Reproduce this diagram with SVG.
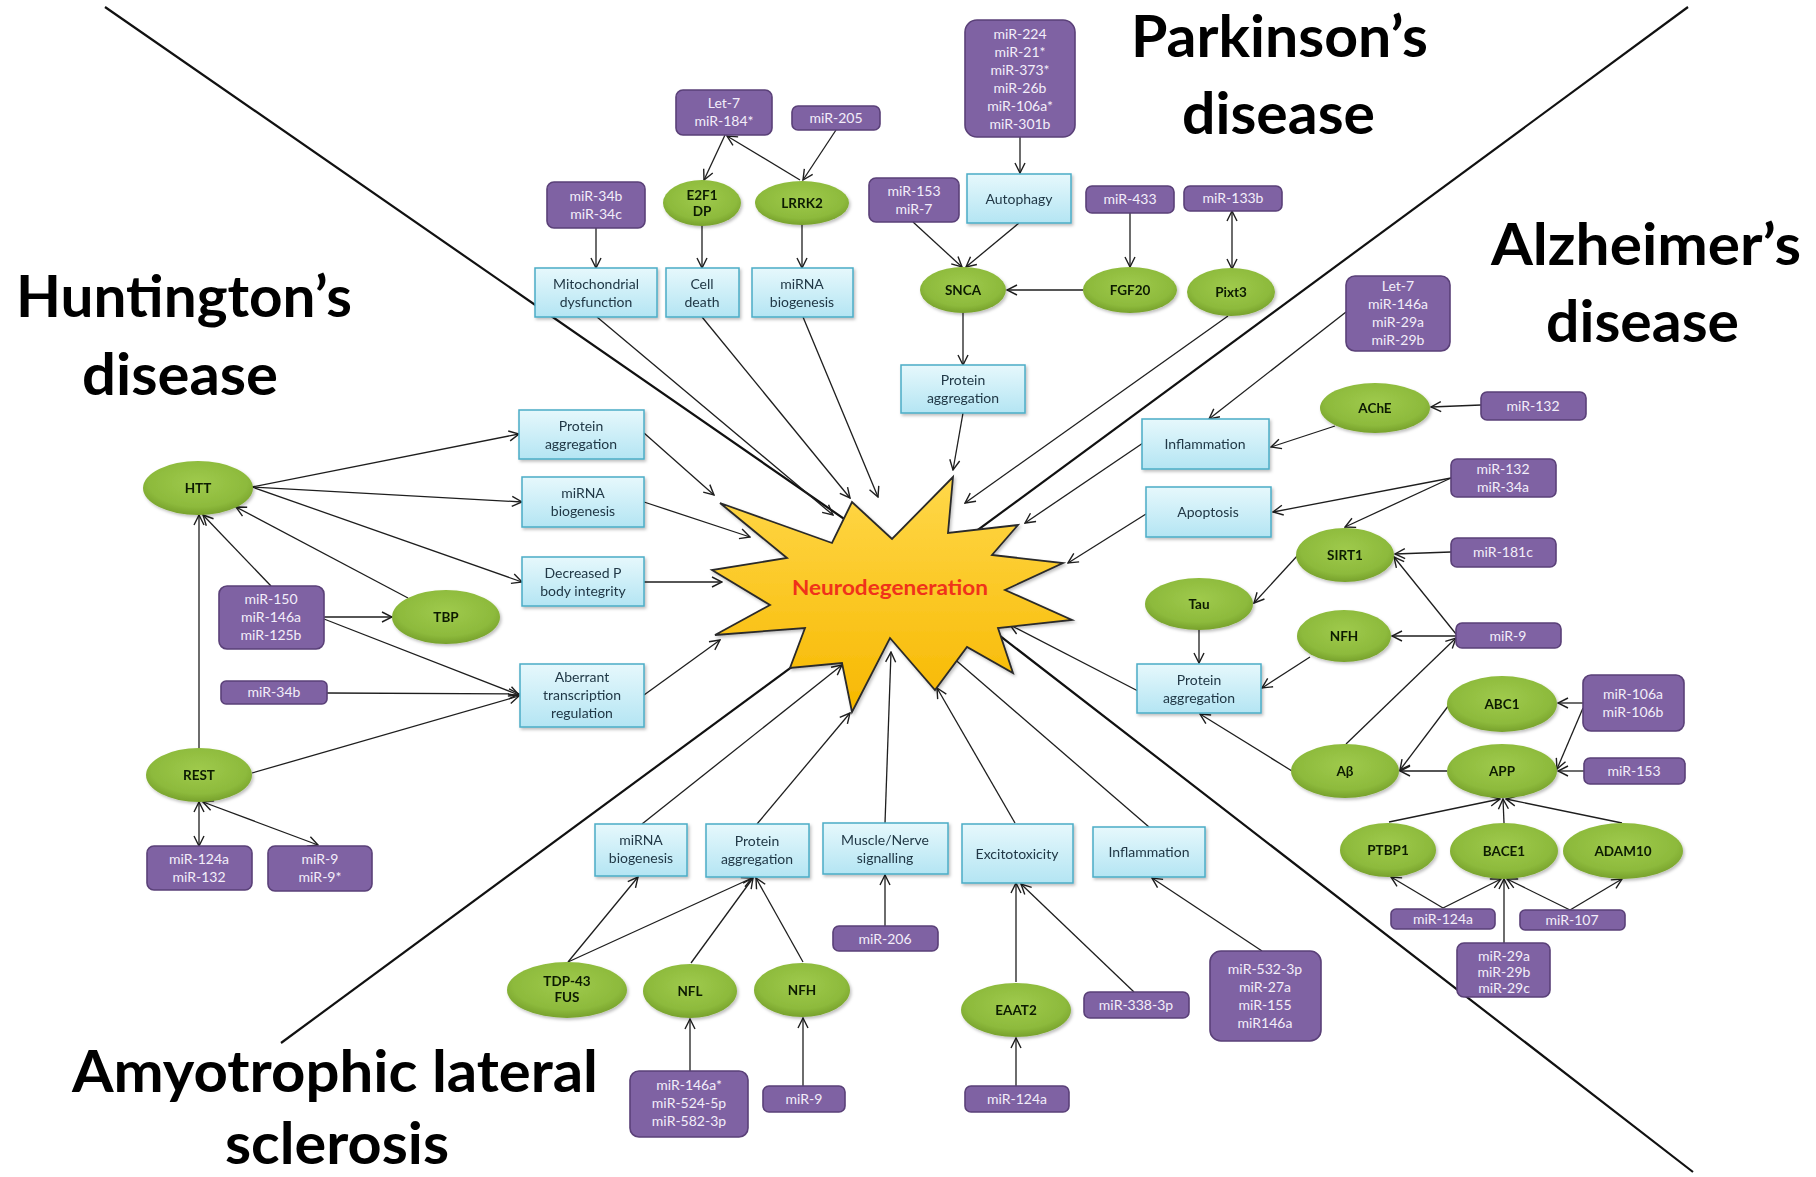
<svg xmlns="http://www.w3.org/2000/svg" width="1816" height="1177" viewBox="0 0 1816 1177">
<defs>
<style>
.title{font-family:Lato,"Open Sans",sans-serif;font-weight:700;font-size:57px;fill:#000}
.bt{font-family:Lato,"Open Sans",sans-serif;font-size:14px;fill:#203846;text-anchor:middle}
.pt{font-family:Lato,"Open Sans",sans-serif;font-size:14px;fill:#f3eefa;text-anchor:middle}
.et{font-family:Lato,"Open Sans",sans-serif;font-weight:700;font-size:13.5px;fill:#0d1a05;text-anchor:middle}
.cy{fill:url(#gc);stroke:#4bacc6;stroke-width:1.5}
.pu{fill:#7f62a3;stroke:#5a4078;stroke-width:1.6}
.gr{fill:url(#gg)}
.c{stroke:#1e1e1e;stroke-width:1.3;fill:none;marker-end:url(#ah)}
.cb{stroke:#1e1e1e;stroke-width:1.3;fill:none;marker-end:url(#ah);marker-start:url(#ah)}
.dg{stroke:#111;stroke-width:2.2;fill:none}
</style>
<linearGradient id="gc" x1="0" y1="0" x2="0" y2="1"><stop offset="0" stop-color="#e6f8fc"/><stop offset="1" stop-color="#b4e5f3"/></linearGradient>
<radialGradient id="gg" cx="0.5" cy="0.4" r="0.6"><stop offset="0" stop-color="#9fca4c"/><stop offset="0.75" stop-color="#8dba3c"/><stop offset="1" stop-color="#77a12c"/></radialGradient>
<linearGradient id="gs" x1="0" y1="0" x2="0" y2="1"><stop offset="0" stop-color="#ffd84a"/><stop offset="1" stop-color="#f7b800"/></linearGradient>
<marker id="ah" viewBox="0 0 12 12" refX="11" refY="6" markerWidth="12" markerHeight="12" markerUnits="userSpaceOnUse" orient="auto-start-reverse"><path d="M1,1 L11,6 L1,11" fill="none" stroke="#1e1e1e" stroke-width="1.4"/></marker>
<filter id="sh" x="-10%" y="-10%" width="130%" height="140%"><feDropShadow dx="1.5" dy="2" stdDeviation="1.5" flood-color="#000" flood-opacity="0.25"/></filter>
</defs>
<rect width="1816" height="1177" fill="#fff"/>

<g id="dividers">
<polyline class="dg" points="105,7 889,550 1693,1172"/>
<line class="dg" x1="1688" y1="7" x2="281" y2="1043"/>
</g>

<g id="titles">
<text class="title" x="1131" y="57" textLength="297" lengthAdjust="spacingAndGlyphs">Parkinson’s</text>
<text class="title" x="1182" y="134" textLength="193" lengthAdjust="spacingAndGlyphs">disease</text>
<text class="title" x="1491" y="265" textLength="310" lengthAdjust="spacingAndGlyphs">Alzheimer’s</text>
<text class="title" x="1546" y="342" textLength="193" lengthAdjust="spacingAndGlyphs">disease</text>
<text class="title" x="16" y="317" textLength="336" lengthAdjust="spacingAndGlyphs">Huntington’s</text>
<text class="title" x="82" y="395" textLength="196" lengthAdjust="spacingAndGlyphs">disease</text>
<text class="title" x="72" y="1092" textLength="526" lengthAdjust="spacingAndGlyphs">Amyotrophic lateral</text>
<text class="title" x="225" y="1164" textLength="224" lengthAdjust="spacingAndGlyphs">sclerosis</text>
</g>

<g id="connectors">
<line class="c" x1="725" y1="135" x2="704" y2="180"/>
<line class="c" x1="800" y1="180" x2="727" y2="136"/>
<line class="c" x1="836" y1="130" x2="803" y2="180"/>
<line class="c" x1="596" y1="228" x2="596" y2="268"/>
<line class="c" x1="702" y1="226" x2="702" y2="268"/>
<line class="c" x1="802" y1="225" x2="802" y2="268"/>
<line class="c" x1="597" y1="317" x2="833" y2="515"/>
<line class="c" x1="702" y1="317" x2="850" y2="498"/>
<line class="c" x1="803" y1="317" x2="878" y2="497"/>
<line class="c" x1="1020" y1="137" x2="1020" y2="173"/>
<line class="c" x1="913" y1="222" x2="962" y2="267"/>
<line class="c" x1="1019" y1="223" x2="966" y2="267"/>
<line class="c" x1="1083" y1="290" x2="1007" y2="290"/>
<line class="c" x1="1130" y1="213" x2="1130" y2="267"/>
<line class="cb" x1="1232" y1="211" x2="1232" y2="269"/>
<line class="c" x1="963" y1="313" x2="963" y2="365"/>
<line class="c" x1="963" y1="413" x2="953" y2="470"/>
<line class="c" x1="1228" y1="316" x2="965" y2="503"/>
<line class="c" x1="1346" y1="312" x2="1209" y2="419"/>
<line class="c" x1="1335" y1="426" x2="1271" y2="447"/>
<line class="c" x1="1481" y1="405" x2="1431" y2="407"/>
<line class="c" x1="1451" y1="478" x2="1273" y2="512"/>
<line class="c" x1="1451" y1="478" x2="1345" y2="527"/>
<line class="c" x1="1451" y1="552" x2="1395" y2="554"/>
<line class="c" x1="1298" y1="555" x2="1254" y2="603"/>
<line class="c" x1="1199" y1="630" x2="1199" y2="663"/>
<line class="c" x1="1310" y1="657" x2="1262" y2="688"/>
<line class="c" x1="1456" y1="636" x2="1392" y2="636"/>
<line class="c" x1="1456" y1="634" x2="1394" y2="557"/>
<line class="c" x1="1346" y1="744" x2="1456" y2="638"/>
<line class="c" x1="1143" y1="443" x2="1025" y2="523"/>
<line class="c" x1="1146" y1="514" x2="1068" y2="563"/>
<line class="c" x1="1138" y1="691" x2="1010" y2="625"/>
<line class="c" x1="1292" y1="771" x2="1200" y2="714"/>
<line class="c" x1="1449" y1="705" x2="1400" y2="770"/>
<line class="c" x1="1447" y1="771" x2="1400" y2="771"/>
<line class="c" x1="1583" y1="703" x2="1558" y2="703"/>
<line class="c" x1="1583" y1="708" x2="1557" y2="769"/>
<line class="c" x1="1584" y1="771" x2="1558" y2="771"/>
<line class="c" x1="1389" y1="822" x2="1500" y2="799"/>
<line class="c" x1="1504" y1="823" x2="1503" y2="799"/>
<line class="c" x1="1622" y1="823" x2="1506" y2="799"/>
<line class="c" x1="1443" y1="908" x2="1391" y2="877"/>
<line class="c" x1="1443" y1="908" x2="1501" y2="879"/>
<line class="c" x1="1570" y1="910" x2="1507" y2="879"/>
<line class="c" x1="1570" y1="910" x2="1622" y2="879"/>
<line class="c" x1="1504" y1="943" x2="1504" y2="879"/>
<line class="c" x1="252" y1="487" x2="519" y2="434"/>
<line class="c" x1="252" y1="487" x2="522" y2="502"/>
<line class="c" x1="252" y1="487" x2="522" y2="582"/>
<line class="c" x1="408" y1="598" x2="236" y2="507"/>
<line class="c" x1="271" y1="586" x2="203" y2="515"/>
<line class="c" x1="324" y1="617" x2="392" y2="617"/>
<line class="c" x1="324" y1="619" x2="519" y2="695"/>
<line class="c" x1="327" y1="693" x2="519" y2="694"/>
<line class="c" x1="252" y1="773" x2="519" y2="696"/>
<line class="c" x1="199" y1="748" x2="199" y2="515"/>
<line class="cb" x1="199" y1="802" x2="199" y2="846"/>
<line class="cb" x1="203" y1="802" x2="318" y2="845"/>
<line class="c" x1="644" y1="433" x2="714" y2="495"/>
<line class="c" x1="644" y1="502" x2="750" y2="537"/>
<line class="c" x1="644" y1="582" x2="722" y2="582"/>
<line class="c" x1="644" y1="695" x2="720" y2="640"/>
<line class="c" x1="642" y1="824" x2="842" y2="665"/>
<line class="c" x1="757" y1="824" x2="850" y2="713"/>
<line class="c" x1="885" y1="823" x2="891" y2="652"/>
<line class="c" x1="1015" y1="823" x2="937" y2="688"/>
<line class="c" x1="1149" y1="827" x2="944" y2="650"/>
<line class="c" x1="568" y1="962" x2="638" y2="877"/>
<line class="c" x1="568" y1="962" x2="752" y2="878"/>
<line class="c" x1="691" y1="963" x2="753" y2="878"/>
<line class="c" x1="803" y1="962" x2="756" y2="878"/>
<line class="c" x1="690" y1="1071" x2="690" y2="1019"/>
<line class="c" x1="803" y1="1086" x2="803" y2="1018"/>
<line class="c" x1="885" y1="926" x2="885" y2="875"/>
<line class="c" x1="1016" y1="982" x2="1016" y2="883"/>
<line class="c" x1="1134" y1="992" x2="1021" y2="884"/>
<line class="c" x1="1262" y1="951" x2="1152" y2="878"/>
<line class="c" x1="1016" y1="1086" x2="1016" y2="1038"/>
</g>

<g id="neurodegeneration">
<polygon points="720,503 832,543 852,502 892,539 953,477 948,533 1018,525 992,555 1063,563 1005,590 1072,620 998,628 1013,673 967,647 935,690 890,638 852,712 842,663 790,668 805,628 715,635 770,605 712,570 787,558" fill="url(#gs)" stroke="#2a2a2a" stroke-width="1.8" stroke-linejoin="miter" filter="url(#sh)"/>
<text x="890" y="595" font-family="Lato,'Open Sans',sans-serif" font-weight="700" font-size="20" fill="#f0321a" text-anchor="middle" textLength="196" lengthAdjust="spacingAndGlyphs">Neurodegeneration</text>
</g>

<!-- Parkinson's -->
<g id="pd-let7"><rect class="pu" x="676" y="90" width="96" height="45" rx="7"/><text class="pt" x="724" y="108">Let-7</text><text class="pt" x="724" y="126">miR-184*</text></g>
<g id="pd-mir205"><rect class="pu" x="792" y="106" width="88" height="24" rx="6"/><text class="pt" x="836" y="123">miR-205</text></g>
<g id="pd-mir34b"><rect class="pu" x="547" y="182" width="98" height="46" rx="7"/><text class="pt" x="596" y="201">miR-34b</text><text class="pt" x="596" y="219">miR-34c</text></g>
<g id="pd-e2f1" filter="url(#sh)"><ellipse class="gr" cx="702" cy="203" rx="39" ry="23"/><text class="et" x="702" y="200">E2F1</text><text class="et" x="702" y="216">DP</text></g>
<g id="pd-lrrk2" filter="url(#sh)"><ellipse class="gr" cx="802" cy="203" rx="47" ry="22"/><text class="et" x="802" y="208">LRRK2</text></g>
<g id="pd-mito" filter="url(#sh)"><rect class="cy" x="535" y="268" width="122" height="49"/><text class="bt" x="596" y="289">Mitochondrial</text><text class="bt" x="596" y="307">dysfunction</text></g>
<g id="pd-cell" filter="url(#sh)"><rect class="cy" x="666" y="268" width="73" height="49"/><text class="bt" x="702" y="289">Cell</text><text class="bt" x="702" y="307">death</text></g>
<g id="pd-mirna" filter="url(#sh)"><rect class="cy" x="752" y="268" width="101" height="49"/><text class="bt" x="802" y="289">miRNA</text><text class="bt" x="802" y="307">biogenesis</text></g>
<g id="pd-mir224"><rect class="pu" x="965" y="20" width="110" height="117" rx="12"/><text class="pt" x="1020" y="39">miR-224</text><text class="pt" x="1020" y="57">miR-21*</text><text class="pt" x="1020" y="75">miR-373*</text><text class="pt" x="1020" y="93">miR-26b</text><text class="pt" x="1020" y="111">miR-106a*</text><text class="pt" x="1020" y="129">miR-301b</text></g>
<g id="pd-autophagy" filter="url(#sh)"><rect class="cy" x="967" y="174" width="104" height="49"/><text class="bt" x="1019" y="204">Autophagy</text></g>
<g id="pd-mir153"><rect class="pu" x="869" y="178" width="90" height="44" rx="7"/><text class="pt" x="914" y="196">miR-153</text><text class="pt" x="914" y="214">miR-7</text></g>
<g id="pd-mir433"><rect class="pu" x="1086" y="186" width="88" height="27" rx="6"/><text class="pt" x="1130" y="204">miR-433</text></g>
<g id="pd-mir133b"><rect class="pu" x="1184" y="186" width="98" height="25" rx="6"/><text class="pt" x="1233" y="203">miR-133b</text></g>
<g id="pd-snca" filter="url(#sh)"><ellipse class="gr" cx="963" cy="290" rx="43" ry="23"/><text class="et" x="963" y="295">SNCA</text></g>
<g id="pd-fgf20" filter="url(#sh)"><ellipse class="gr" cx="1130" cy="290" rx="47" ry="23"/><text class="et" x="1130" y="295">FGF20</text></g>
<g id="pd-pixt3" filter="url(#sh)"><ellipse class="gr" cx="1231" cy="292" rx="44" ry="24"/><text class="et" x="1231" y="297">Pixt3</text></g>
<g id="pd-protein" filter="url(#sh)"><rect class="cy" x="901" y="365" width="124" height="48"/><text class="bt" x="963" y="385">Protein</text><text class="bt" x="963" y="403">aggregation</text></g>

<!-- Alzheimer's -->
<g id="ad-let7"><rect class="pu" x="1346" y="276" width="104" height="75" rx="9"/><text class="pt" x="1398" y="291">Let-7</text><text class="pt" x="1398" y="309">miR-146a</text><text class="pt" x="1398" y="327">miR-29a</text><text class="pt" x="1398" y="345">miR-29b</text></g>
<g id="ad-ache" filter="url(#sh)"><ellipse class="gr" cx="1375" cy="408" rx="55" ry="25"/><text class="et" x="1375" y="413">AChE</text></g>
<g id="ad-mir132"><rect class="pu" x="1481" y="392" width="105" height="28" rx="6"/><text class="pt" x="1533" y="411">miR-132</text></g>
<g id="ad-inflam" filter="url(#sh)"><rect class="cy" x="1142" y="419" width="127" height="50"/><text class="bt" x="1205" y="449">Inflammation</text></g>
<g id="ad-mir132-34a"><rect class="pu" x="1451" y="459" width="105" height="38" rx="6"/><text class="pt" x="1503" y="474">miR-132</text><text class="pt" x="1503" y="492">miR-34a</text></g>
<g id="ad-apoptosis" filter="url(#sh)"><rect class="cy" x="1146" y="487" width="125" height="50"/><text class="bt" x="1208" y="517">Apoptosis</text></g>
<g id="ad-sirt1" filter="url(#sh)"><ellipse class="gr" cx="1345" cy="555" rx="49" ry="27"/><text class="et" x="1345" y="560">SIRT1</text></g>
<g id="ad-mir181c"><rect class="pu" x="1451" y="538" width="105" height="29" rx="6"/><text class="pt" x="1503" y="557">miR-181c</text></g>
<g id="ad-tau" filter="url(#sh)"><ellipse class="gr" cx="1199" cy="604" rx="54" ry="26"/><text class="et" x="1199" y="609">Tau</text></g>
<g id="ad-nfh" filter="url(#sh)"><ellipse class="gr" cx="1344" cy="636" rx="47" ry="26"/><text class="et" x="1344" y="641">NFH</text></g>
<g id="ad-mir9"><rect class="pu" x="1456" y="623" width="105" height="25" rx="6"/><text class="pt" x="1508" y="641">miR-9</text></g>
<g id="ad-protein" filter="url(#sh)"><rect class="cy" x="1137" y="664" width="124" height="49"/><text class="bt" x="1199" y="685">Protein</text><text class="bt" x="1199" y="703">aggregation</text></g>
<g id="ad-abc1" filter="url(#sh)"><ellipse class="gr" cx="1502" cy="704" rx="55" ry="28"/><text class="et" x="1502" y="709">ABC1</text></g>
<g id="ad-mir106"><rect class="pu" x="1583" y="675" width="101" height="56" rx="8"/><text class="pt" x="1633" y="699">miR-106a</text><text class="pt" x="1633" y="717">miR-106b</text></g>
<g id="ad-abeta" filter="url(#sh)"><ellipse class="gr" cx="1345" cy="771" rx="54" ry="27"/><text class="et" x="1345" y="776">Aβ</text></g>
<g id="ad-app" filter="url(#sh)"><ellipse class="gr" cx="1502" cy="771" rx="55" ry="27"/><text class="et" x="1502" y="776">APP</text></g>
<g id="ad-mir153"><rect class="pu" x="1584" y="758" width="101" height="26" rx="6"/><text class="pt" x="1634" y="776">miR-153</text></g>
<g id="ad-ptbp1" filter="url(#sh)"><ellipse class="gr" cx="1388" cy="850" rx="48" ry="27"/><text class="et" x="1388" y="855">PTBP1</text></g>
<g id="ad-bace1" filter="url(#sh)"><ellipse class="gr" cx="1504" cy="851" rx="54" ry="28"/><text class="et" x="1504" y="856">BACE1</text></g>
<g id="ad-adam10" filter="url(#sh)"><ellipse class="gr" cx="1623" cy="851" rx="60" ry="28"/><text class="et" x="1623" y="856">ADAM10</text></g>
<g id="ad-mir124a"><rect class="pu" x="1391" y="909" width="104" height="20" rx="5"/><text class="pt" x="1443" y="924">miR-124a</text></g>
<g id="ad-mir107"><rect class="pu" x="1520" y="910" width="105" height="20" rx="5"/><text class="pt" x="1572" y="925">miR-107</text></g>
<g id="ad-mir29"><rect class="pu" x="1457" y="943" width="93" height="54" rx="7"/><text class="pt" x="1504" y="961">miR-29a</text><text class="pt" x="1504" y="977">miR-29b</text><text class="pt" x="1504" y="993">miR-29c</text></g>

<!-- Huntington's -->
<g id="hd-htt" filter="url(#sh)"><ellipse class="gr" cx="198" cy="488" rx="55" ry="27"/><text class="et" x="198" y="493">HTT</text></g>
<g id="hd-protein" filter="url(#sh)"><rect class="cy" x="519" y="410" width="125" height="49"/><text class="bt" x="581" y="431">Protein</text><text class="bt" x="581" y="449">aggregation</text></g>
<g id="hd-mirna" filter="url(#sh)"><rect class="cy" x="522" y="477" width="122" height="50"/><text class="bt" x="583" y="498">miRNA</text><text class="bt" x="583" y="516">biogenesis</text></g>
<g id="hd-pbody" filter="url(#sh)"><rect class="cy" x="522" y="557" width="122" height="49"/><text class="bt" x="583" y="578">Decreased P</text><text class="bt" x="583" y="596">body integrity</text></g>
<g id="hd-mir150"><rect class="pu" x="219" y="586" width="105" height="63" rx="8"/><text class="pt" x="271" y="604">miR-150</text><text class="pt" x="271" y="622">miR-146a</text><text class="pt" x="271" y="640">miR-125b</text></g>
<g id="hd-tbp" filter="url(#sh)"><ellipse class="gr" cx="446" cy="617" rx="54" ry="27"/><text class="et" x="446" y="622">TBP</text></g>
<g id="hd-mir34b"><rect class="pu" x="221" y="681" width="106" height="23" rx="5"/><text class="pt" x="274" y="697">miR-34b</text></g>
<g id="hd-aberrant" filter="url(#sh)"><rect class="cy" x="520" y="664" width="124" height="63"/><text class="bt" x="582" y="682">Aberrant</text><text class="bt" x="582" y="700">transcription</text><text class="bt" x="582" y="718">regulation</text></g>
<g id="hd-rest" filter="url(#sh)"><ellipse class="gr" cx="199" cy="775" rx="53" ry="27"/><text class="et" x="199" y="780">REST</text></g>
<g id="hd-mir124a"><rect class="pu" x="147" y="846" width="105" height="44" rx="7"/><text class="pt" x="199" y="864">miR-124a</text><text class="pt" x="199" y="882">miR-132</text></g>
<g id="hd-mir9"><rect class="pu" x="268" y="846" width="104" height="45" rx="7"/><text class="pt" x="320" y="864">miR-9</text><text class="pt" x="320" y="882">miR-9*</text></g>

<!-- ALS -->
<g id="als-mirna" filter="url(#sh)"><rect class="cy" x="595" y="824" width="92" height="52"/><text class="bt" x="641" y="845">miRNA</text><text class="bt" x="641" y="863">biogenesis</text></g>
<g id="als-protein" filter="url(#sh)"><rect class="cy" x="706" y="824" width="103" height="53"/><text class="bt" x="757" y="846">Protein</text><text class="bt" x="757" y="864">aggregation</text></g>
<g id="als-muscle" filter="url(#sh)"><rect class="cy" x="823" y="823" width="125" height="51"/><text class="bt" x="885" y="845">Muscle/Nerve</text><text class="bt" x="885" y="863">signalling</text></g>
<g id="als-excito" filter="url(#sh)"><rect class="cy" x="962" y="824" width="111" height="59"/><text class="bt" x="1017" y="859">Excitotoxicity</text></g>
<g id="als-inflam" filter="url(#sh)"><rect class="cy" x="1093" y="827" width="112" height="50"/><text class="bt" x="1149" y="857">Inflammation</text></g>
<g id="als-mir206"><rect class="pu" x="833" y="926" width="105" height="25" rx="6"/><text class="pt" x="885" y="944">miR-206</text></g>
<g id="als-tdp43" filter="url(#sh)"><ellipse class="gr" cx="567" cy="990" rx="60" ry="28"/><text class="et" x="567" y="986">TDP-43</text><text class="et" x="567" y="1002">FUS</text></g>
<g id="als-nfl" filter="url(#sh)"><ellipse class="gr" cx="690" cy="991" rx="47" ry="27"/><text class="et" x="690" y="996">NFL</text></g>
<g id="als-nfh" filter="url(#sh)"><ellipse class="gr" cx="802" cy="990" rx="48" ry="27"/><text class="et" x="802" y="995">NFH</text></g>
<g id="als-eaat2" filter="url(#sh)"><ellipse class="gr" cx="1016" cy="1010" rx="55" ry="27"/><text class="et" x="1016" y="1015">EAAT2</text></g>
<g id="als-mir338"><rect class="pu" x="1084" y="992" width="105" height="26" rx="6"/><text class="pt" x="1136" y="1010">miR-338-3p</text></g>
<g id="als-mir532"><rect class="pu" x="1210" y="951" width="111" height="90" rx="11"/><text class="pt" x="1265" y="974">miR-532-3p</text><text class="pt" x="1265" y="992">miR-27a</text><text class="pt" x="1265" y="1010">miR-155</text><text class="pt" x="1265" y="1028">miR146a</text></g>
<g id="als-mir146a"><rect class="pu" x="630" y="1071" width="118" height="66" rx="9"/><text class="pt" x="689" y="1090">miR-146a*</text><text class="pt" x="689" y="1108">miR-524-5p</text><text class="pt" x="689" y="1126">miR-582-3p</text></g>
<g id="als-mir9"><rect class="pu" x="763" y="1086" width="82" height="26" rx="6"/><text class="pt" x="804" y="1104">miR-9</text></g>
<g id="als-mir124a"><rect class="pu" x="965" y="1086" width="104" height="26" rx="6"/><text class="pt" x="1017" y="1104">miR-124a</text></g>
</svg>
